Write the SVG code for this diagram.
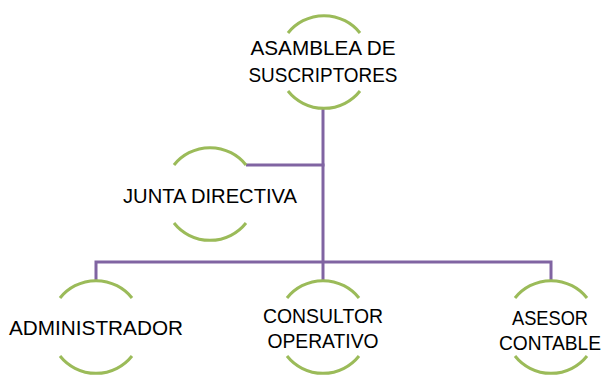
<svg xmlns="http://www.w3.org/2000/svg" width="605" height="375" viewBox="0 0 605 375">
<style>
.arc{fill:none;stroke:#9BBB59;stroke-width:3}
.con{fill:none;stroke:#8064A2;stroke-width:3}
.t{font-family:"Liberation Sans",Arial,sans-serif;font-size:21px;fill:#000;text-anchor:middle}
</style>
<rect width="605" height="375" fill="#fff"/>
<g id="connectors">
<path class="con" d="M323,108 V281"/>
<path class="con" d="M246,165 H324.5"/>
<path class="con" d="M96,281 V262 H551 V281"/>
</g>
<g id="asamblea">
<path class="arc" d="M288,33 A46,46 0 0 1 360,33"/>
<path class="arc" d="M288,91 A46,46 0 0 0 360,91"/>
<text class="t" x="323" y="55" textLength="145" lengthAdjust="spacingAndGlyphs">ASAMBLEA DE</text>
<text class="t" x="323" y="82" textLength="149" lengthAdjust="spacingAndGlyphs">SUSCRIPTORES</text>
</g>
<g id="junta">
<path class="arc" d="M174,165 A46,46 0 0 1 246,165"/>
<path class="arc" d="M174,223 A46,46 0 0 0 246,223"/>
<text class="t" x="210" y="203" textLength="174" lengthAdjust="spacingAndGlyphs">JUNTA DIRECTIVA</text>
</g>
<g id="administrador">
<path class="arc" d="M60,298 A46,46 0 0 1 132,298"/>
<path class="arc" d="M60,356 A46,46 0 0 0 132,356"/>
<text class="t" x="96" y="335" textLength="174" lengthAdjust="spacingAndGlyphs">ADMINISTRADOR</text>
</g>
<g id="consultor">
<path class="arc" d="M287,298 A46,46 0 0 1 359,298"/>
<path class="arc" d="M287,356 A46,46 0 0 0 359,356"/>
<text class="t" x="323" y="323" textLength="120" lengthAdjust="spacingAndGlyphs">CONSULTOR</text>
<text class="t" x="323" y="348" textLength="111" lengthAdjust="spacingAndGlyphs">OPERATIVO</text>
</g>
<g id="asesor">
<path class="arc" d="M515,298 A46,46 0 0 1 587,298"/>
<path class="arc" d="M515,356 A46,46 0 0 0 587,356"/>
<text class="t" x="550" y="325" textLength="76" lengthAdjust="spacingAndGlyphs">ASESOR</text>
<text class="t" x="550" y="350" textLength="102" lengthAdjust="spacingAndGlyphs">CONTABLE</text>
</g>
</svg>
